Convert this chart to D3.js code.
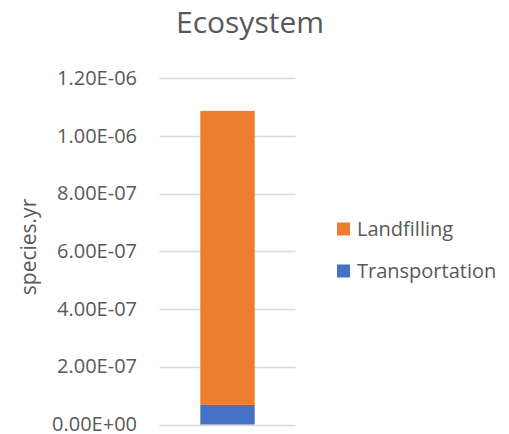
<!DOCTYPE html>
<html><head><meta charset="utf-8">
<script src="https://cdn.jsdelivr.net/npm/d3@7"></script>
<style>body{margin:0;background:#fff}svg{display:block}text{font-family:"Open Sans",sans-serif;fill:#595959}</style>
</head><body><div id="c"></div>
<script>
const categories = ["Ecosystem"];
const seriesNames = ["Transportation", "Landfilling"];
const transportation = [6.8e-8];
const landfilling = [1.019e-6];
const tickValues = [0, 2e-7, 4e-7, 6e-7, 8e-7, 1e-6, 1.2e-6];
const tickLabels = ["0.00E+00","2.00E-07","4.00E-07","6.00E-07","8.00E-07","1.00E-06","1.20E-06"];
const colors = {Transportation:"#4472c4", Landfilling:"#ed7d31"};

const W=509,H=434;
const svg=d3.select("#c").append("svg").attr("width",W).attr("height",H);
const y=d3.scaleLinear().domain([0,1.2e-6]).range([424.5,78.3]);
const x=d3.scaleBand().domain(categories).range([159.5,295.5]).paddingInner(0.6).paddingOuter(0.3);

// gridlines
svg.append("g").selectAll("line").data(tickValues).join("line")
 .attr("x1",159.5).attr("x2",295.5)
 .attr("y1",d=>Math.round(y(d))+0.5).attr("y2",d=>Math.round(y(d))+0.5)
 .attr("stroke","#d9d9d9").attr("stroke-width",1.5);

// axis labels
svg.append("g").selectAll("text").data(tickValues).join("text")
 .attr("x",137).attr("y",d=>y(d)).attr("dy","0.33em").attr("text-anchor","end")
 .style("font-size","20px").text((d,i)=>tickLabels[i]);

const stacked=d3.stack().keys(seriesNames)(categories.map((c,i)=>({cat:c,Transportation:transportation[i],Landfilling:landfilling[i]})));
svg.append("g").selectAll("g").data(stacked).join("g").attr("fill",d=>colors[d.key])
 .selectAll("rect").data(d=>d).join("rect")
 .attr("x",d=>x(d.data.cat)).attr("width",x.bandwidth())
 .attr("y",d=>y(d[1])).attr("height",d=>y(d[0])-y(d[1]));

svg.append("text").attr("x",250).attr("y",33).attr("text-anchor","middle").style("font-size","30px").text("Ecosystem");
svg.append("text").attr("transform","translate(36,247) rotate(-90)").attr("text-anchor","middle").style("font-size","21px").text("species.yr");

const legendOrder=["Landfilling","Transportation"];
const lg=svg.append("g").selectAll("g").data(legendOrder).join("g").attr("transform",(d,i)=>`translate(337,${229+i*42})`);
lg.append("rect").attr("x",0).attr("y",-6.5).attr("width",13).attr("height",13).attr("fill",d=>colors[d]);
lg.append("text").attr("x",20).attr("y",0).attr("dy","0.35em").style("font-size","20px").text(d=>d);
</script></body></html>
